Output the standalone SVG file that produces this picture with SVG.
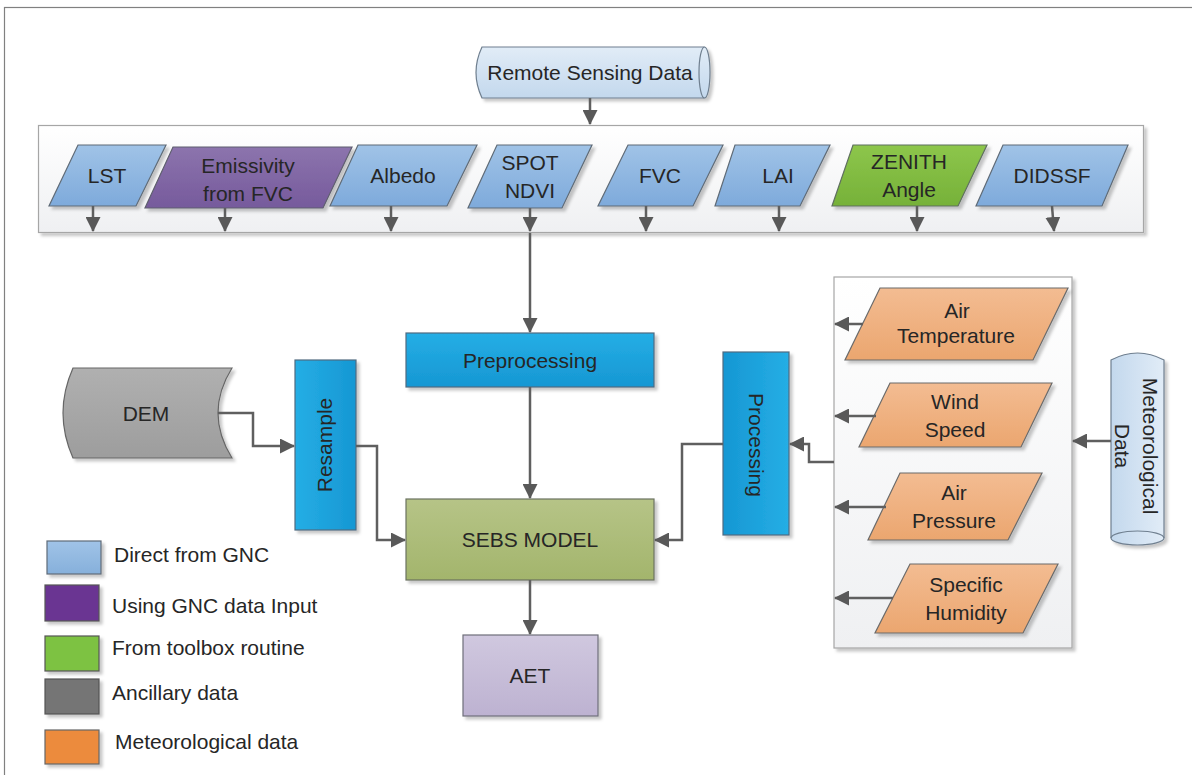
<svg xmlns="http://www.w3.org/2000/svg" width="1192" height="775" viewBox="0 0 1192 775">
<defs>
<style>
text{font-family:"Liberation Sans",Arial,sans-serif;font-size:21px;fill:#262626;}
.lbl{text-anchor:middle;}
.conn{fill:none;stroke:#5f5f5f;stroke-width:2.5;}
.sh{filter:url(#shadow);}
.pb{fill:url(#gBlue);stroke:#5f6b77;stroke-width:1.2;}
.po{fill:url(#gOrange);stroke:#6b6b6b;stroke-width:1.2;}
.proc{fill:url(#gProc);stroke:#4f6b80;stroke-width:1.2;}
.cont{fill:url(#gCont);stroke:#a6a6a6;stroke-width:1.2;}
</style>
<filter id="shadow" x="-10%" y="-10%" width="130%" height="130%">
<feDropShadow dx="3" dy="3" stdDeviation="1.5" flood-color="#000" flood-opacity="0.22"/>
</filter>
<linearGradient id="gBlue" x1="0" y1="0" x2="0" y2="1"><stop offset="0" stop-color="#a0c3e7"/><stop offset="1" stop-color="#7eaadb"/></linearGradient>
<linearGradient id="gPurple" x1="0" y1="0" x2="0" y2="1"><stop offset="0" stop-color="#8c74ad"/><stop offset="1" stop-color="#765a9c"/></linearGradient>
<linearGradient id="gGreen" x1="0" y1="0" x2="0" y2="1"><stop offset="0" stop-color="#8dc64b"/><stop offset="1" stop-color="#76b139"/></linearGradient>
<linearGradient id="gOrange" x1="0" y1="0" x2="0" y2="1"><stop offset="0" stop-color="#f3bc92"/><stop offset="1" stop-color="#eba66f"/></linearGradient>
<linearGradient id="gProc" x1="0" y1="0" x2="0" y2="1"><stop offset="0" stop-color="#25aee5"/><stop offset="1" stop-color="#1697d3"/></linearGradient>
<linearGradient id="gProcH" x1="0" y1="0" x2="1" y2="0"><stop offset="0" stop-color="#25aee5"/><stop offset="1" stop-color="#1697d3"/></linearGradient>
<linearGradient id="gProcH2" x1="1" y1="0" x2="0" y2="0"><stop offset="0" stop-color="#25aee5"/><stop offset="1" stop-color="#1697d3"/></linearGradient>
<linearGradient id="gSebs" x1="0" y1="0" x2="0" y2="1"><stop offset="0" stop-color="#b6c487"/><stop offset="1" stop-color="#a3b56c"/></linearGradient>
<linearGradient id="gAet" x1="0" y1="0" x2="0" y2="1"><stop offset="0" stop-color="#d0c8df"/><stop offset="1" stop-color="#bdb2d1"/></linearGradient>
<linearGradient id="gDem" x1="0" y1="0" x2="0" y2="1"><stop offset="0" stop-color="#b0b0b0"/><stop offset="1" stop-color="#9d9d9d"/></linearGradient>
<linearGradient id="gCyl" x1="0" y1="0" x2="0" y2="1"><stop offset="0" stop-color="#e1ecf7"/><stop offset="1" stop-color="#c3d8ed"/></linearGradient>
<linearGradient id="gCylH" x1="0" y1="0" x2="1" y2="0"><stop offset="0" stop-color="#c3d8ed"/><stop offset="1" stop-color="#e1ecf7"/></linearGradient>
<linearGradient id="gCont" x1="0" y1="0" x2="0" y2="1"><stop offset="0" stop-color="#ffffff"/><stop offset="1" stop-color="#eff0f2"/></linearGradient>
<linearGradient id="gLBlue" x1="0" y1="0" x2="0" y2="1"><stop offset="0" stop-color="#a0c3e7"/><stop offset="1" stop-color="#86b0db"/></linearGradient>
<marker id="arr" viewBox="0 0 15 15" refX="14" refY="7.5" markerWidth="15" markerHeight="15" markerUnits="userSpaceOnUse" orient="auto">
<path d="M0,0 L15,7.5 L0,15 Z" fill="#595959"/>
</marker>
</defs>

<rect x="4.5" y="7.5" width="1200" height="800" fill="#ffffff" stroke="#808080" stroke-width="1.2"/>

<g id="band">
<rect class="cont sh" x="38.5" y="125.5" width="1105" height="107"/>
</g>
<g id="metbox">
<rect class="cont sh" x="834" y="277" width="238" height="371"/>
</g>

<g id="remote-sensing">
<path class="sh" d="M482,47 L704.5,47 A5.5,25.5 0 0 1 704.5,98 L482,98 Q470,72.5 482,47 Z" fill="url(#gCyl)" stroke="#6f7f8f" stroke-width="1.2"/>
<path d="M704.5,47 A5.5,25.5 0 0 0 704.5,98" fill="none" stroke="#6f7f8f" stroke-width="1.2"/>
<text class="lbl" x="590" y="80">Remote Sensing Data</text>
</g>

<g id="lst">
<polygon class="pb sh" points="78,145 166,145 136,206 49,206"/>
<text class="lbl" x="107" y="183">LST</text>
</g>
<g id="emissivity">
<polygon class="sh" points="173,147 352,147 323,208 145,208" fill="url(#gPurple)" stroke="#5f5f6f" stroke-width="1.2"/>
<text class="lbl" x="248" y="173">Emissivity</text>
<text class="lbl" x="248" y="201">from FVC</text>
</g>
<g id="albedo">
<polygon class="pb sh" points="358,145 477,145 447,206 330,206"/>
<text class="lbl" x="403" y="183">Albedo</text>
</g>
<g id="spot-ndvi">
<polygon class="pb sh" points="497,145 592,145 562,208 468,208"/>
<text class="lbl" x="530" y="170">SPOT</text>
<text class="lbl" x="530" y="198">NDVI</text>
</g>
<g id="fvc">
<polygon class="pb sh" points="628,145 723,145 693,206 598,206"/>
<text class="lbl" x="660" y="183">FVC</text>
</g>
<g id="lai">
<polygon class="pb sh" points="735,145 830,145 800,206 715,206"/>
<text class="lbl" x="778" y="183">LAI</text>
</g>
<g id="zenith">
<polygon class="sh" points="853,145 987,145 958,206 832,206" fill="url(#gGreen)" stroke="#5f6f5f" stroke-width="1.2"/>
<text class="lbl" x="909" y="169">ZENITH</text>
<text class="lbl" x="909" y="197">Angle</text>
</g>
<g id="didssf">
<polygon class="pb sh" points="1003,145 1128,145 1102,206 976,206"/>
<text class="lbl" x="1052" y="183">DIDSSF</text>
</g>

<g id="preprocessing">
<rect class="proc sh" x="406" y="333" width="248" height="54"/>
<text class="lbl" x="530" y="368">Preprocessing</text>
</g>
<g id="sebs">
<rect class="sh" x="406" y="499" width="248" height="81" fill="url(#gSebs)" stroke="#6b7260" stroke-width="1.2"/>
<text class="lbl" x="530" y="547">SEBS MODEL</text>
</g>
<g id="aet">
<rect class="sh" x="463" y="635" width="135" height="81" fill="url(#gAet)" stroke="#6f6f7a" stroke-width="1.2"/>
<text class="lbl" x="530" y="683">AET</text>
</g>

<g id="dem">
<path class="sh" d="M73,368 L232,368 Q204,413 232,458 L73,458 Q53,413 73,368 Z" fill="url(#gDem)" stroke="#666" stroke-width="1.2"/>
<text class="lbl" x="146" y="421">DEM</text>
</g>
<g id="resample">
<rect class="sh" x="295" y="360" width="61" height="170" fill="url(#gProcH)" stroke="#4f6b80" stroke-width="1.2"/>
<text class="lbl" transform="translate(325,445) rotate(-90)" x="0" y="7">Resample</text>
</g>
<g id="processing">
<rect class="sh" x="723" y="352" width="66" height="183" fill="url(#gProcH2)" stroke="#4f6b80" stroke-width="1.2"/>
<text class="lbl" transform="translate(756,445) rotate(90)" x="0" y="7">Processing</text>
</g>

<g id="air-temperature">
<polygon class="po sh" points="880,288 1068,288 1033,360 845,360"/>
<text class="lbl" x="957" y="318">Air</text>
<text class="lbl" x="956" y="343">Temperature</text>
</g>
<g id="wind-speed">
<polygon class="po sh" points="890,383 1052,383 1021,447 859,447"/>
<text class="lbl" x="955" y="409">Wind</text>
<text class="lbl" x="955" y="437">Speed</text>
</g>
<g id="air-pressure">
<polygon class="po sh" points="900,473 1042,473 1008,540 868,540"/>
<text class="lbl" x="954" y="500">Air</text>
<text class="lbl" x="954" y="528">Pressure</text>
</g>
<g id="specific-humidity">
<polygon class="po sh" points="910,564 1058,564 1023,633 875,633"/>
<text class="lbl" x="966" y="592">Specific</text>
<text class="lbl" x="966" y="620">Humidity</text>
</g>

<g id="meteorological-data">
<path class="sh" d="M1111,360 Q1137.5,346 1164,360 L1164,538 A26.5,7 0 0 1 1111,538 Z" fill="url(#gCylH)" stroke="#6f7f8f" stroke-width="1.2"/>
<path d="M1111,538 A26.5,7 0 0 1 1164,538" fill="none" stroke="#6f7f8f" stroke-width="1.2"/>
<text class="lbl" transform="translate(1137,446) rotate(90)" x="0" y="-6">Meteorological</text>
<text class="lbl" transform="translate(1137,446) rotate(90)" x="0" y="22">Data</text>
</g>

<g id="connectors">
<path class="conn" d="M590,98 L590,124" marker-end="url(#arr)"/>
<path class="conn" d="M93,206 L93,231" marker-end="url(#arr)"/>
<path class="conn" d="M225,208 L225,231" marker-end="url(#arr)"/>
<path class="conn" d="M391,206 L391,231" marker-end="url(#arr)"/>
<path class="conn" d="M530,208 L530,231" marker-end="url(#arr)"/>
<path class="conn" d="M646,206 L646,231" marker-end="url(#arr)"/>
<path class="conn" d="M779,206 L779,231" marker-end="url(#arr)"/>
<path class="conn" d="M917,206 L917,231" marker-end="url(#arr)"/>
<path class="conn" d="M1052,206 L1054,231" marker-end="url(#arr)"/>
<path class="conn" d="M530,233 L530,332" marker-end="url(#arr)"/>
<path class="conn" d="M530,387 L530,498" marker-end="url(#arr)"/>
<path class="conn" d="M530,580 L530,634" marker-end="url(#arr)"/>
<path class="conn" d="M218,413 L253,413 L253,446 L294,446" marker-end="url(#arr)"/>
<path class="conn" d="M356,446 L377,446 L377,540 L405,540" marker-end="url(#arr)"/>
<path class="conn" d="M723,444 L682,444 L682,540 L655,540" marker-end="url(#arr)"/>
<path class="conn" d="M834,462 L809,462 L809,444 L790,444" marker-end="url(#arr)"/>
<path class="conn" d="M863,324 L835,324" marker-end="url(#arr)"/>
<path class="conn" d="M876,416 L835,416" marker-end="url(#arr)"/>
<path class="conn" d="M886,507 L835,507" marker-end="url(#arr)"/>
<path class="conn" d="M893,598 L835,598" marker-end="url(#arr)"/>
<path class="conn" d="M1111,441 L1073,441" marker-end="url(#arr)"/>
</g>

<g id="legend">
<rect class="sh" x="47" y="541" width="54" height="33" fill="url(#gLBlue)" stroke="#5f6b77" stroke-width="1.2"/>
<text x="114" y="562">Direct from GNC</text>
<rect class="sh" x="45" y="585" width="54" height="36" fill="#6a3592" stroke="#555" stroke-width="1.2"/>
<text x="112" y="613">Using GNC data Input</text>
<rect class="sh" x="45" y="636" width="54" height="35" fill="#7dc243" stroke="#555" stroke-width="1.2"/>
<text x="112" y="655">From toolbox routine</text>
<rect class="sh" x="45" y="679" width="54" height="35" fill="#747474" stroke="#555" stroke-width="1.2"/>
<text x="112" y="700">Ancillary data</text>
<rect class="sh" x="45" y="730" width="54" height="34" fill="#ec8b3c" stroke="#666" stroke-width="1.2"/>
<text x="115" y="749">Meteorological data</text>
</g>
</svg>
